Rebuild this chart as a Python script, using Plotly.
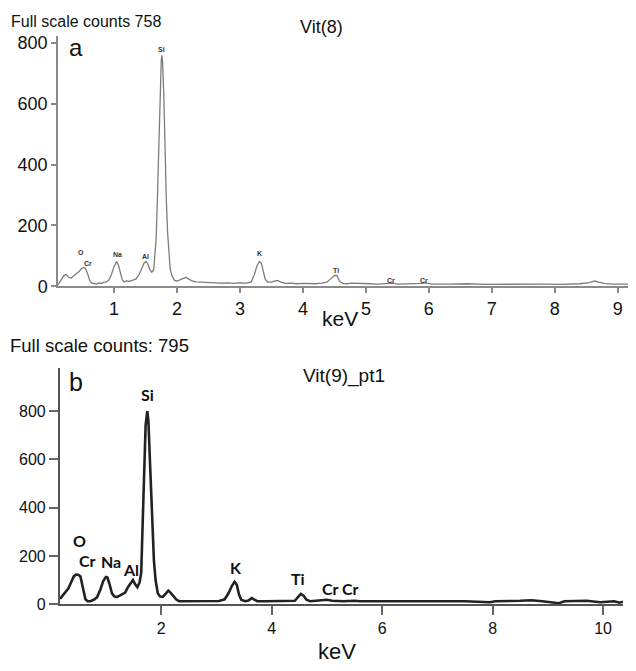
import plotly.graph_objects as go

# ---------------- data: panel a (Vit(8)) ----------------
kev_a = [0.11, 0.15, 0.20, 0.24, 0.28, 0.32, 0.36, 0.40, 0.44, 0.48, 0.52, 0.55, 0.58, 0.61, 0.64,
         0.68, 0.72, 0.76, 0.80, 0.84, 0.88, 0.92, 0.96, 1.00, 1.04, 1.07, 1.10, 1.13, 1.16, 1.20,
         1.25, 1.30, 1.35, 1.40, 1.44, 1.48, 1.51, 1.54, 1.57, 1.60, 1.63, 1.65, 1.67, 1.69, 1.71,
         1.73, 1.75, 1.76, 1.77, 1.79, 1.81, 1.83, 1.85, 1.87, 1.89, 1.92, 1.96, 2.00, 2.05, 2.10,
         2.14, 2.18, 2.24, 2.30, 2.40, 2.50, 2.60, 2.70, 2.80, 2.90, 3.00, 3.10, 3.18, 3.23, 3.27,
         3.31, 3.34, 3.37, 3.40, 3.44, 3.50, 3.56, 3.60, 3.65, 3.72, 3.80, 3.90, 4.00, 4.10, 4.20,
         4.30, 4.38, 4.44, 4.50, 4.54, 4.58, 4.63, 4.70, 4.77, 4.85, 4.95, 5.05, 5.20, 5.35, 5.42,
         5.50, 5.70, 5.88, 5.95, 6.05, 6.30, 6.60, 6.90, 7.20, 7.50, 7.80, 8.10, 8.40, 8.55, 8.63,
         8.70, 8.78, 8.90, 9.10, 9.29]
counts_a = [5, 20, 35, 40, 30, 28, 36, 42, 48, 58, 63, 58, 42, 22, 12,
            10, 8, 12, 10, 14, 15, 22, 40, 65, 82, 70, 42, 22, 15, 18,
            17, 22, 25, 40, 62, 78, 82, 72, 55, 47, 55, 110, 160, 300, 460,
            630, 740, 758, 740, 630, 430, 286, 180, 100, 60, 35, 20, 18, 22, 28,
            30, 25, 18, 15, 14, 12, 13, 11, 12, 10, 12, 11, 15, 40, 68,
            82, 76, 50, 25, 14, 14, 18, 20, 14, 10, 11, 9, 10, 9, 9,
            11, 14, 25, 36, 36, 18, 10, 9, 11, 10, 8, 9, 8, 9, 11,
            8, 8, 10, 12, 8, 8, 9, 7, 8, 7, 8, 7, 9, 13, 18,
            14, 10, 8, 8, 8]

labels_a = ["O", "Cr", "Na", "Al", "Si", "K", "Ti", "Cr", "Cr"]
label_kev_a = [0.48, 0.58, 1.05, 1.50, 1.76, 3.31, 4.52, 5.40, 5.93]
label_cnt_a = [112, 77, 106, 99, 777, 109, 51, 19, 19]

# ---------------- data: panel b (Vit(9)_pt1) ----------------
kev_b = [0.17, 0.22, 0.27, 0.32, 0.37, 0.42, 0.46, 0.50, 0.54, 0.57, 0.60, 0.63, 0.67, 0.72, 0.78,
         0.84, 0.90, 0.95, 1.00, 1.03, 1.07, 1.11, 1.15, 1.20, 1.25, 1.30, 1.35, 1.40, 1.45, 1.49,
         1.53, 1.57, 1.61, 1.64, 1.67, 1.70, 1.72, 1.75, 1.77, 1.80, 1.82, 1.84, 1.87, 1.90, 1.94,
         1.98, 2.03, 2.08, 2.13, 2.17, 2.22, 2.28, 2.33, 2.50, 2.70, 2.90, 3.05, 3.15, 3.22, 3.28,
         3.33, 3.37, 3.41, 3.45, 3.52, 3.58, 3.64, 3.68, 3.74, 3.90, 4.10, 4.30, 4.42, 4.48, 4.53,
         4.58, 4.63, 4.70, 4.90, 5.00, 5.10, 5.30, 5.50, 5.60, 6.00, 6.50, 7.00, 7.50, 7.95, 8.05,
         8.50, 8.70, 8.90, 9.20, 9.30, 9.70, 9.95, 10.05, 10.20, 10.30, 10.36]
counts_b = [22, 35, 50, 65, 90, 115, 123, 122, 115, 85, 50, 20, 12, 12, 18,
            28, 60, 95, 112, 110, 80, 45, 32, 30, 35, 40, 48, 70, 90, 100,
            82, 70, 90, 130, 365, 600, 744, 800, 760, 581, 450, 310, 180, 100, 45,
            32, 30, 42, 56, 48, 33, 18, 12, 12, 12, 12, 13, 20, 45, 75,
            93, 80, 40, 18, 12, 15, 25, 20, 12, 12, 12, 12, 14, 30, 42,
            35, 18, 12, 14, 18, 14, 12, 14, 12, 12, 12, 12, 12, 8, 12,
            14, 16, 12, 4, 12, 14, 8, 10, 12, 6, 10]

labels_b = ["O", "Cr", "Na", "Al", "Si", "K", "Ti", "Cr", "Cr"]
label_kev_b = [0.52, 0.66, 1.10, 1.46, 1.75, 3.35, 4.47, 5.07, 5.43]
label_cnt_b = [264, 179, 175, 142, 870, 150, 106, 65, 65]

ticks_a_x = [1, 2, 3, 4, 5, 6, 7, 8, 9]
ticks_b_x = [2, 4, 6, 8, 10]
ticks_y = [0, 200, 400, 600, 800]

# the page body has an 8px default margin; compensate so the figure fills the window
W, H = 636, 671
OFF = 8
FW, FH = W - OFF, H - OFF

def px(x):
    return (x - OFF) / FW

def py(y):
    return 1 - (y - OFF) / FH

fig = go.Figure()
fig.add_trace(go.Scatter(x=kev_a, y=counts_a, mode="lines", xaxis="x", yaxis="y",
                         line=dict(color="#7c7c7c", width=1.3), showlegend=False,
                         hoverinfo="skip"))
fig.add_trace(go.Scatter(x=kev_b, y=counts_b, mode="lines", xaxis="x2", yaxis="y2",
                         line=dict(color="#222222", width=2.6), showlegend=False,
                         hoverinfo="skip"))

font_main = "Liberation Sans, Arial, sans-serif"
ann = []
for t, xv, yv in zip(labels_a, label_kev_a, label_cnt_a):
    ann.append(dict(text="<b>%s</b>" % t, x=xv, y=yv, xref="x", yref="y", showarrow=False,
                    font=dict(size=7, color="#333333", family=font_main)))
for t, xv, yv in zip(labels_b, label_kev_b, label_cnt_b):
    ann.append(dict(text="<b>%s</b>" % t, x=xv, y=yv, xref="x2", yref="y2", showarrow=False,
                    font=dict(size=16, color="#111111", family="Lato, Open Sans, sans-serif")))

def txt(text, x, y, size, xanchor="left"):
    return dict(text=text, x=px(x), y=py(y), xref="paper", yref="paper", showarrow=False,
                xanchor=xanchor, yanchor="middle",
                font=dict(size=size, color="#111111", family=font_main))

ann += [
    txt("Full scale counts 758", 9, 18.5, 16),
    txt("Vit(8)", 321, 24, 18, "center"),
    txt("a", 67, 45, 24),
    txt("keV", 340, 322, 21, "center"),
    txt("Full scale counts: 795", 8, 349.5, 18.5),
    txt("Vit(9)_pt1", 344, 380, 19, "center"),
    txt("b", 67, 386, 25),
    txt("keV", 337, 661, 22, "center"),
]

axis_a = dict(showline=True, linecolor="#8a8a8a", linewidth=1.5, ticks="outside",
              tickcolor="#8a8a8a", tickwidth=1.5, ticklen=5, showgrid=False, zeroline=False,
              tickfont=dict(size=18, color="#111111", family=font_main))
axis_b = dict(showline=True, linecolor="#555555", linewidth=2.2, ticks="outside",
              tickcolor="#666666", tickwidth=1.8, ticklen=9, showgrid=False, zeroline=False,
              tickfont=dict(size=16, color="#111111", family=font_main))

fig.update_layout(
    width=FW, height=FH, autosize=False,
    margin=dict(l=0, r=0, t=0, b=0),
    paper_bgcolor="white", plot_bgcolor="white",
    xaxis=dict(axis_a, domain=[px(58), px(636)], range=[0.11, 9.29], anchor="y",
               tickmode="array", tickvals=ticks_a_x),
    yaxis=dict(axis_a, domain=[py(289), py(33)], range=[0, 823], anchor="x",
               tickmode="array", tickvals=ticks_y),
    xaxis2=dict(axis_b, domain=[px(60), px(623)], range=[0.17, 10.36], anchor="y2",
                tickmode="array", tickvals=ticks_b_x),
    yaxis2=dict(axis_b, domain=[py(613), py(372)], range=[0, 980], anchor="x2",
                tickmode="array", tickvals=ticks_y),
    annotations=ann,
)

fig.write_html("out.html")
